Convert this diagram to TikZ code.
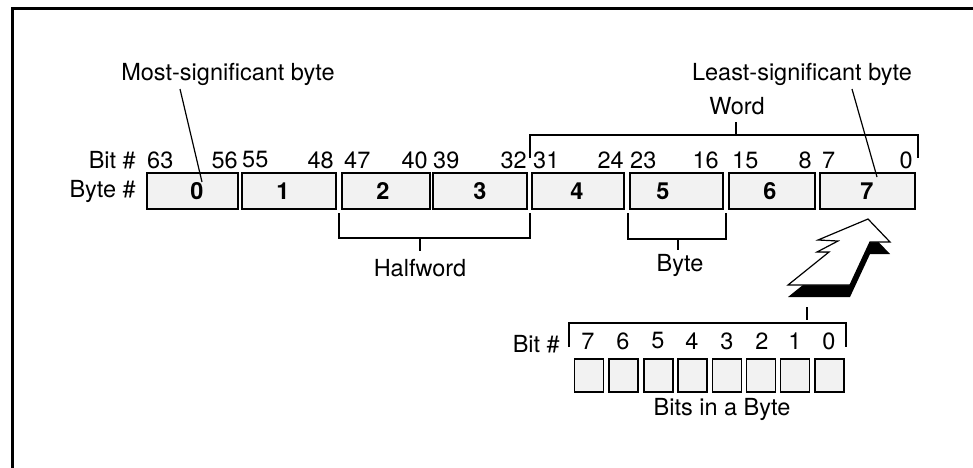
\documentclass[tikz,border=0pt]{standalone}
\usepackage{fontspec}
\setmainfont{TeX Gyre Heros}
\begin{document}
\begin{tikzpicture}[x=1pt,y=-1pt,
  lbl/.style={font=\fontsize{23.5}{26}\selectfont, inner sep=0pt},
  dig/.style={font=\fontsize{23.5}{26}\selectfont\bfseries, inner sep=0pt},
  bytebox/.style={draw, line width=1.7pt, fill=black!5, minimum height=36pt, inner sep=0pt},
  bitbox/.style={draw, line width=1.5pt, fill=black!5, minimum width=29pt, minimum height=33pt, inner sep=0pt},
  thinline/.style={line width=1.2pt},
  framel/.style={line width=3pt}]
\useasboundingbox (0,0) rectangle (973,467);
% frame
\coordinate (fbl) at (12.5,468);
\coordinate (ftl) at (12.5,8);
\coordinate (ftr) at (974,8);
\draw[framel] (fbl) -- (ftl) -- (ftr);

% byte boxes
\node[bytebox, minimum width=91pt] (b0) at (192.5,191) {};
\node[bytebox, minimum width=94pt] (b1) at (289,191) {};
\node[bytebox, minimum width=88pt] (b2) at (386,191) {};
\node[bytebox, minimum width=94pt] (b3) at (480,191) {};
\node[bytebox, minimum width=92pt] (b4) at (578,191) {};
\node[bytebox, minimum width=93pt] (b5) at (676.5,191) {};
\node[bytebox, minimum width=86pt] (b6) at (772,191) {};
\node[bytebox, minimum width=95pt] (b7) at (867.5,191) {};
\node[dig] (d0) at (197,191) {0};
\node[dig] (d1) at (283,191) {1};
\node[dig] (d2) at (383,191) {2};
\node[dig] (d3) at (480,191) {3};
\node[dig] (d4) at (577,191) {4};
\node[dig] (d5) at (663,191) {5};
\node[dig] (d6) at (770,191) {6};
\node[dig] (d7) at (867,191) {7};

% row labels
\node[lbl, anchor=east] (bitlbl) at (136,160) {Bit \#};
\node[lbl, anchor=east] (bytelbl) at (136,191) {Byte \#};

% bit numbers
\node[lbl, anchor=west] (n63) at (147,160) {63};
\node[lbl, anchor=east] (n56) at (238,160) {56};
\node[lbl, anchor=west] (n55) at (242,160) {55};
\node[lbl, anchor=east] (n48) at (334,160) {48};
\node[lbl, anchor=west] (n47) at (344,160) {47};
\node[lbl, anchor=east] (n40) at (428,160) {40};
\node[lbl, anchor=west] (n39) at (433,160) {39};
\node[lbl, anchor=east] (n32) at (527,160) {32};
\node[lbl, anchor=west] (n31) at (533,160) {31};
\node[lbl, anchor=east] (n24) at (624,160) {24};
\node[lbl, anchor=west] (n23) at (630,160) {23};
\node[lbl, anchor=east] (n16) at (719,160) {16};
\node[lbl, anchor=west] (n15) at (732,160) {15};
\node[lbl, anchor=east] (n8) at (812,160) {8};
\node[lbl, anchor=west] (n7) at (822,160) {7};
\node[lbl, anchor=east] (n0) at (913,160) {0};

% top labels and leaders
\node[lbl] (msb) at (228,74) {Most-significant byte};
\node[lbl] (lsb) at (802,74) {Least-significant byte};
\coordinate (msbs) at (180,89);
\coordinate (msbe) at (202,182);
\coordinate (lsbs) at (852,89);
\coordinate (lsbe) at (877,177);
\draw[thinline] (msbs) -- (msbe);
\draw[thinline] (lsbs) -- (lsbe);

% Word bracket
\node[lbl] (word) at (737,106) {Word};
\coordinate (wt) at (736,122);
\coordinate (wm) at (736,135);
\coordinate (wl) at (530,158);
\coordinate (wr) at (918,158);
\draw[thinline] (wl) -- (wl |- wm) -- (wr |- wm) -- (wr);
\draw[thinline] (wt) -- (wm);

% Halfword bracket
\coordinate (hl) at (339,213);
\coordinate (hr) at (530,213);
\coordinate (hm) at (420,238);
\coordinate (ht) at (420,251);
\draw[thinline] (hl) -- (hl |- hm) -- (hr |- hm) -- (hr);
\draw[thinline] (hm) -- (ht);
\node[lbl] (half) at (420,268) {Halfword};

% Byte bracket
\coordinate (yl) at (628,213);
\coordinate (yr) at (726,213);
\coordinate (ym) at (678,239);
\coordinate (yt) at (678,250);
\draw[thinline] (yl) -- (yl |- ym) -- (yr |- ym) -- (yr);
\draw[thinline] (ym) -- (yt);
\node[lbl] (bytew) at (680,265) {Byte};

% big arrow with shadow
\begin{scope}[yshift=-12pt]
\fill[black] (868,219) -- (890,242) -- (870,242) -- (850,285) -- (788,285) -- (829,252) -- (817,252) -- (838,241) -- (818,240) -- cycle;
\end{scope}
\draw[fill=white, line width=1.2pt, line join=miter] (868,219) -- (890,242) -- (870,242) -- (850,285) -- (788,285) -- (829,252) -- (817,252) -- (838,241) -- (818,240) -- cycle;

% tick under arrow
\coordinate (at1) at (807,307);
\coordinate (at2) at (807,320);
\draw[thinline] (at1) -- (at2);

% bits in a byte
\coordinate (sl) at (569,347);
\coordinate (sr) at (846,347);
\coordinate (sm) at (807,323);
\draw[thinline] (sl) -- (sl |- sm) -- (sr |- sm) -- (sr);
\node[lbl, anchor=east] (bit2) at (560,344) {Bit \#};
\foreach \d/\x in {7/588,6/623,5/658,4/692,3/727,2/762,1/795,0/829}{
  \node[lbl] (s\d) at (\x,341) {\d};
}
\foreach \k/\x in {7/589,6/623.5,5/658.5,4/692.5,3/727,2/761,1/795,0/829.5}{
  \node[bitbox] (bb\k) at (\x,375.5) {};
}
\node[lbl] (bib) at (722,409) {Bits in a Byte};
\end{tikzpicture}
\end{document}
